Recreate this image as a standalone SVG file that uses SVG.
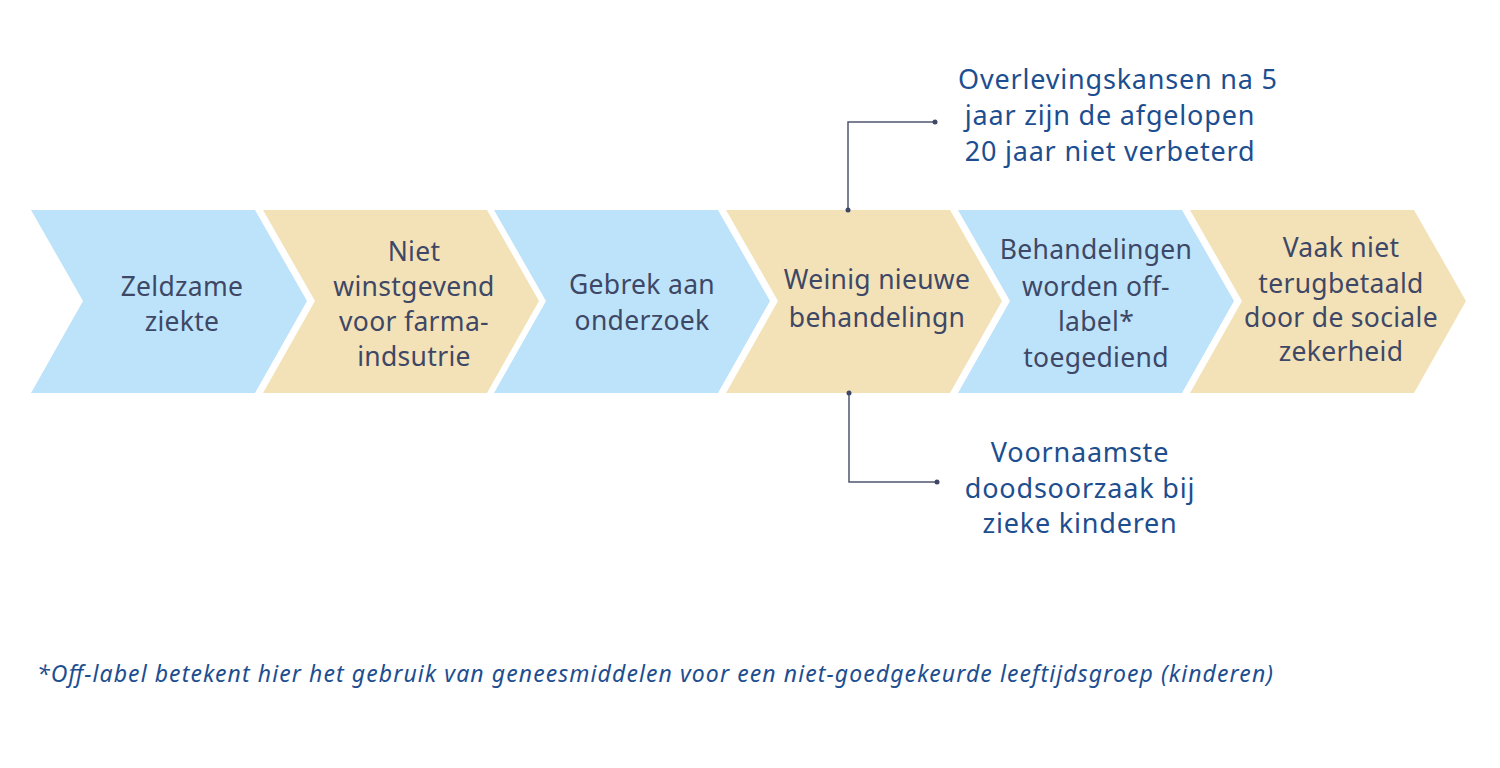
<svg xmlns="http://www.w3.org/2000/svg" width="1500" height="768" viewBox="0 0 1500 768">
<style>
.blue{fill:#BDE3FA}
.beige{fill:#F3E2B7}
.lbl{font-family:"Noto Sans","Liberation Sans",sans-serif;font-size:26.5px;letter-spacing:0.3px;fill:#3E4866;text-anchor:middle}
.co{font-family:"Noto Sans","Liberation Sans",sans-serif;font-size:27px;letter-spacing:0.8px;fill:#1D4E8F;text-anchor:middle}
.fn{font-family:"Noto Sans","Liberation Sans",sans-serif;font-size:23px;font-style:italic;fill:#1D4E8F}
.ln{fill:none;stroke:#4F566D;stroke-width:1.5}
.dot{fill:#3E4866}
</style>
<rect width="1500" height="768" fill="#fff"/>
<g id="chev1"><polygon class="blue" points="31,210 255,210 307,301 255,393 31,393 83,301"/>
<text class="lbl" x="182" y="296">Zeldzame</text><text class="lbl" x="182" y="331">ziekte</text></g>
<g id="chev2"><polygon class="beige" points="263,210 487,210 539,301 487,393 263,393 315,301"/>
<text class="lbl" x="414" y="261">Niet</text><text class="lbl" x="414" y="296">winstgevend</text><text class="lbl" x="414" y="331">voor farma-</text><text class="lbl" x="414" y="366">indsutrie</text></g>
<g id="chev3"><polygon class="blue" points="494,210 718,210 770,301 718,393 494,393 546,301"/>
<text class="lbl" x="642" y="294">Gebrek aan</text><text class="lbl" x="642" y="330">onderzoek</text></g>
<g id="chev4"><polygon class="beige" points="726,210 950,210 1002,301 950,393 726,393 778,301"/>
<text class="lbl" x="877" y="289">Weinig nieuwe</text><text class="lbl" x="877" y="327">behandelingn</text></g>
<g id="chev5"><polygon class="blue" points="958,210 1182,210 1234,301 1182,393 958,393 1010,301"/>
<text class="lbl" x="1096" y="259">Behandelingen</text><text class="lbl" x="1096" y="296">worden off-</text><text class="lbl" x="1096" y="331">label*</text><text class="lbl" x="1096" y="367">toegediend</text></g>
<g id="chev6"><polygon class="beige" points="1190,210 1414,210 1466,301 1414,393 1190,393 1242,301"/>
<text class="lbl" x="1341" y="257">Vaak niet</text><text class="lbl" x="1341" y="293">terugbetaald</text><text class="lbl" x="1341" y="327">door de sociale</text><text class="lbl" x="1341" y="361">zekerheid</text></g>
<g id="connectors">
<polyline class="ln" points="848,210 848,122 935,122"/>
<circle class="dot" cx="848" cy="210" r="2.5"/><circle class="dot" cx="935" cy="122" r="2.5"/>
<polyline class="ln" points="849,393 849,482 937,482"/>
<circle class="dot" cx="849" cy="393" r="2.5"/><circle class="dot" cx="937" cy="482" r="2.5"/>
</g>
<g id="callout-top"><text class="co" x="1118" y="89">Overlevingskansen na 5</text><text class="co" x="1110" y="125">jaar zijn de afgelopen</text><text class="co" x="1110" y="161">20 jaar niet verbeterd</text></g>
<g id="callout-bottom"><text class="co" x="1080" y="462">Voornaamste</text><text class="co" x="1080" y="498">doodsoorzaak bij</text><text class="co" x="1080" y="533">zieke kinderen</text></g>
<g id="footnote"><text class="fn" x="37" y="682" textLength="1236" lengthAdjust="spacing">*Off-label betekent hier het gebruik van geneesmiddelen voor een niet-goedgekeurde leeftijdsgroep (kinderen)</text></g>
</svg>
